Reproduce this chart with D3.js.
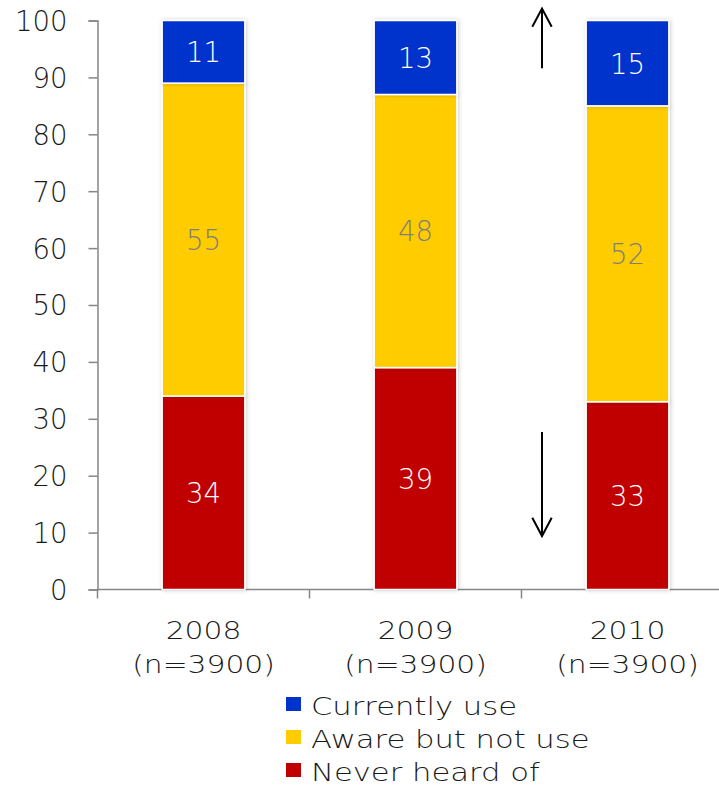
<!DOCTYPE html>
<html>
<head>
<meta charset="utf-8">
<script src="https://cdn.jsdelivr.net/npm/d3@7"></script>
<style>
  html, body { margin: 0; padding: 0; background: #fff; }
  svg { display: block; font-family: "DejaVu Sans", sans-serif; font-weight: 200; }
</style>
</head>
<body>
<svg id="chart" width="719" height="786"></svg>
<script>
// Survey years and sample sizes
const years = ["2008", "2009", "2010"];
const sampleLabels = ["(n=3900)", "(n=3900)", "(n=3900)"];

// Share of respondents (%) per awareness group, stacked bottom to top
const neverHeard = [34, 39, 33];
const awareNotUse = [55, 48, 52];
const currentlyUse = [11, 13, 15];

const seriesNames = ["Never heard of", "Aware but not use", "Currently use"];
const seriesColors = ["#c00000", "#ffcc00", "#0033cc"];
const labelColors = ["#ffffff", "#7f7f7f", "#ffffff"];
const legendOrder = ["Currently use", "Aware but not use", "Never heard of"];

const yTicks = [0, 10, 20, 30, 40, 50, 60, 70, 80, 90, 100];

const svg = d3.select("#chart");

const rows = years.map((y, i) => ({
  year: y,
  "Never heard of": neverHeard[i],
  "Aware but not use": awareNotUse[i],
  "Currently use": currentlyUse[i]
}));
const stacked = d3.stack().keys(seriesNames)(rows);

const x = d3.scaleBand().domain(years).range([97.5, 733.5]).paddingInner(0.61).paddingOuter(0.305);
const y = d3.scaleLinear().domain([0, 100]).range([589.5, 20.5]);

// soft shadow around the bars
const defs = svg.append("defs");
const f = defs.append("filter").attr("id", "shadow")
  .attr("x", "-20%").attr("y", "-5%").attr("width", "140%").attr("height", "110%");
f.append("feDropShadow").attr("dx", 1).attr("dy", 0).attr("stdDeviation", 2.2)
  .attr("flood-color", "#000").attr("flood-opacity", 0.2);

// y axis
const yAxis = svg.append("g").attr("transform", "translate(97.5,0)")
  .call(d3.axisLeft(y).tickValues(yTicks).tickSize(9).tickPadding(21));
yAxis.select(".domain").attr("stroke", "#868686").attr("stroke-width", 1.5);
yAxis.selectAll(".tick line").attr("stroke", "#868686").attr("stroke-width", 1.5);
yAxis.selectAll(".tick text")
  .attr("fill", "#1a1a1a").attr("font-size", 27.5)
  .attr("dy", "0.36em")
  .style("font-family", "\"DejaVu Sans\", sans-serif").style("font-weight", 200);

// x axis: baseline with ticks at category boundaries
const xAxisG = svg.append("g");
xAxisG.append("line").attr("x1", 97.5).attr("x2", 719).attr("y1", y(0)).attr("y2", y(0))
  .attr("stroke", "#868686").attr("stroke-width", 1.5);
years.forEach(d => {
  const bx = x(d) - (x.step() - x.bandwidth()) / 2;
  xAxisG.append("line").attr("x1", bx).attr("x2", bx).attr("y1", y(0)).attr("y2", y(0) + 9)
    .attr("stroke", "#868686").attr("stroke-width", 1.5);
});

// stacked bars
const layers = svg.append("g").selectAll("g").data(stacked).join("g")
  .attr("fill", (d, i) => seriesColors[i]);
layers.selectAll("rect").data(d => d).join("rect")
  .attr("x", d => x(d.data.year))
  .attr("y", d => y(d[1]))
  .attr("width", x.bandwidth())
  .attr("height", d => y(d[0]) - y(d[1]))
  .attr("stroke", "#fff").attr("stroke-width", 1.5)
  .attr("filter", "url(#shadow)");

// value labels
svg.append("g").selectAll("g").data(stacked).join("g")
  .attr("fill", (d, i) => labelColors[i])
  .selectAll("text").data(d => d).join("text")
  .attr("x", d => x(d.data.year) + x.bandwidth() / 2)
  .attr("y", d => y((d[0] + d[1]) / 2))
  .attr("dy", "0.38em")
  .attr("text-anchor", "middle")
  .attr("font-size", 27.5)
  .text(d => d[1] - d[0]);

// category labels (horizontally widened face)
const catG = svg.append("g").attr("fill", "#1a1a1a").attr("font-size", 25).attr("text-anchor", "middle");
years.forEach((d, i) => {
  const cx = x(d) + x.bandwidth() / 2;
  catG.append("text").attr("transform", `translate(${cx},639) scale(1.19,1)`).text(d);
  catG.append("text").attr("transform", `translate(${cx},673) scale(1.19,1)`).text(sampleLabels[i]);
});

// arrows between 2009 and 2010
const arrowX = 542;
const head = 3.2;
const arrows = svg.append("g").attr("stroke", "#000").attr("stroke-width", 2).attr("fill", "none");
const upTip = 102.1, upTail = 91.6, downTail = 27.7, downTip = 9.4;
arrows.append("line").attr("x1", arrowX).attr("x2", arrowX).attr("y1", y(upTip)).attr("y2", y(upTail));
arrows.append("polyline").attr("points", `${arrowX - 9.7},${y(upTip - head)} ${arrowX},${y(upTip)} ${arrowX + 9.7},${y(upTip - head)}`);
arrows.append("line").attr("x1", arrowX).attr("x2", arrowX).attr("y1", y(downTail)).attr("y2", y(downTip));
arrows.append("polyline").attr("points", `${arrowX - 9.7},${y(downTip + head)} ${arrowX},${y(downTip)} ${arrowX + 9.7},${y(downTip + head)}`);

// legend
const legend = svg.append("g");
legendOrder.forEach((name, i) => {
  const base = 715 + i * 33;
  legend.append("rect").attr("x", 286).attr("y", base - 18).attr("width", 15).attr("height", 14)
    .attr("fill", seriesColors[seriesNames.indexOf(name)]);
  legend.append("text").attr("transform", `translate(311,${base}) scale(1.225,1)`).attr("fill", "#1a1a1a")
    .attr("font-size", 25).text(name);
});
</script>
</body>
</html>
